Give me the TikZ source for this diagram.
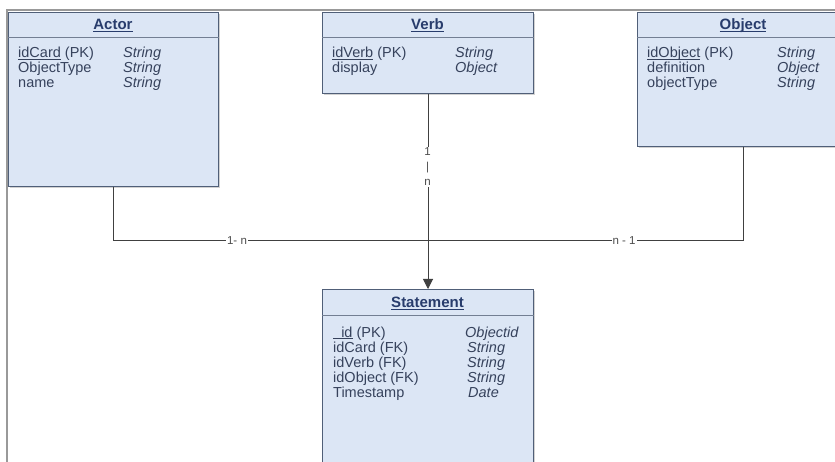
\documentclass[tikz,border=0pt]{standalone}
\usepackage{fontspec}
\setmainfont{Liberation Sans}
\usetikzlibrary{arrows.meta,shadows}

\definecolor{boxFill}{HTML}{DCE6F5}
\definecolor{boxLine}{HTML}{505F78}
\definecolor{titleText}{HTML}{283C6C}
\definecolor{attrText}{HTML}{36425C}

\newcommand{\keyline}[1]{\underline{\smash{#1}}}

\tikzset{
	entityBox/.style={rectangle, draw=boxLine, fill=boxFill, line width=1pt, anchor=north west, inner sep=0pt,
		drop shadow={shadow xshift=1.5pt, shadow yshift=-1.5pt, opacity=0.35}},
	entityTitle/.style={anchor=base, inner sep=0pt, text=titleText, font=\fontsize{15}{17}\selectfont\bfseries},
	attrName/.style={anchor=base west, inner sep=0pt, text=attrText, font=\fontsize{14.5}{15}\selectfont},
	attrType/.style={attrName, font=\fontsize{14.5}{15}\selectfont\itshape},
	sepLine/.style={draw=boxLine!80, line width=0.8pt},
	relLine/.style={draw=black!75, line width=1pt},
	relLabel/.style={fill=white, inner sep=1pt, text=black!70, font=\fontsize{11.5}{15}\selectfont},
}

\begin{document}
\begin{tikzpicture}[x=1pt, y=-1pt]
	\clip (0,0) rectangle (835,462);
	\fill[white] (0,0) rectangle (835,462);

	% frame
	\draw[black!40, line width=1.5pt] (7,462) -- (7,10) -- (835,10);

	% entity boxes
	\node[entityBox, minimum width=210pt, minimum height=174pt](actorBox) at (8,12){};
	\node[entityBox, minimum width=211pt, minimum height=81pt](verbBox) at (322,12){};
	\node[entityBox, minimum width=212pt, minimum height=134pt](objectBox) at (637,12){};
	\node[entityBox, minimum width=211pt, minimum height=200pt](statementBox) at (322,289){};

	\draw[sepLine] (actorBox.west |- 0,37) -- (actorBox.east |- 0,37);
	\draw[sepLine] (verbBox.west |- 0,37) -- (verbBox.east |- 0,37);
	\draw[sepLine] (objectBox.west |- 0,37) -- (objectBox.east |- 0,37);
	\draw[sepLine] (statementBox.west |- 0,315) -- (statementBox.east |- 0,315);

	% titles
	\node[entityTitle](actorTitle) at (113,29.5){\keyline{Actor}};
	\node[entityTitle](verbTitle) at (427.5,29.5){\keyline{Verb}};
	\node[entityTitle](objectTitle) at (743,29.5){\keyline{Object}};
	\node[entityTitle](statementTitle) at (427.5,307.5){\keyline{Statement}};

	% actor fields
	\node[attrName](actorRow1) at (18,58){\keyline{idCard} (PK)};
	\node[attrName](actorRow2) at (18,73){ObjectType};
	\node[attrName](actorRow3) at (18,88){name};
	\node[attrType](actorType1) at (123,58){String};
	\node[attrType](actorType2) at (123,73){String};
	\node[attrType](actorType3) at (123,88){String};

	% verb fields
	\node[attrName](verbRow1) at (332,58){\keyline{idVerb} (PK)};
	\node[attrName](verbRow2) at (332,73){display};
	\node[attrType](verbType1) at (455,58){String};
	\node[attrType](verbType2) at (455,73){Object};

	% object fields
	\node[attrName](objectRow1) at (647,58){\keyline{idObject} (PK)};
	\node[attrName](objectRow2) at (647,73){definition};
	\node[attrName](objectRow3) at (647,88){objectType};
	\node[attrType](objectType1) at (777,58){String};
	\node[attrType](objectType2) at (777,73){Object};
	\node[attrType](objectType3) at (777,88){String};

	% statement fields
	\node[attrName](statementRow1) at (333,337){\keyline{\phantom{\_}id} (PK)};
	\node[attrName](statementRow2) at (333,352){idCard (FK)};
	\node[attrName](statementRow3) at (333,367){idVerb (FK)};
	\node[attrName](statementRow4) at (333,382){idObject (FK)};
	\node[attrName](statementRow5) at (333,397){Timestamp};
	\node[attrType](statementType1) at (465,337){Objectid};
	\node[attrType](statementType2) at (467,352){String};
	\node[attrType](statementType3) at (467,367){String};
	\node[attrType](statementType4) at (467,382){String};
	\node[attrType](statementType5) at (468,397){Date};

	% relations
	\coordinate(actorCorner) at (actorBox.south |- 0,241);
	\coordinate(objectCorner) at (objectBox.south |- 0,241);
	\draw[relLine] (actorBox.south) -- (actorCorner) -- (objectCorner) -- (objectBox.south);
	\draw[relLine, -{Triangle[width=10pt, length=10pt]}] (verbBox.south) -- (statementBox.north);

	\node[relLabel](actorCard) at (237,241){1- n};
	\node[relLabel](objectCard) at (624,241){n - 1};
	\node[relLabel, align=center](verbCard) at (427.5,167){1\\|\\n};
\end{tikzpicture}
\end{document}
